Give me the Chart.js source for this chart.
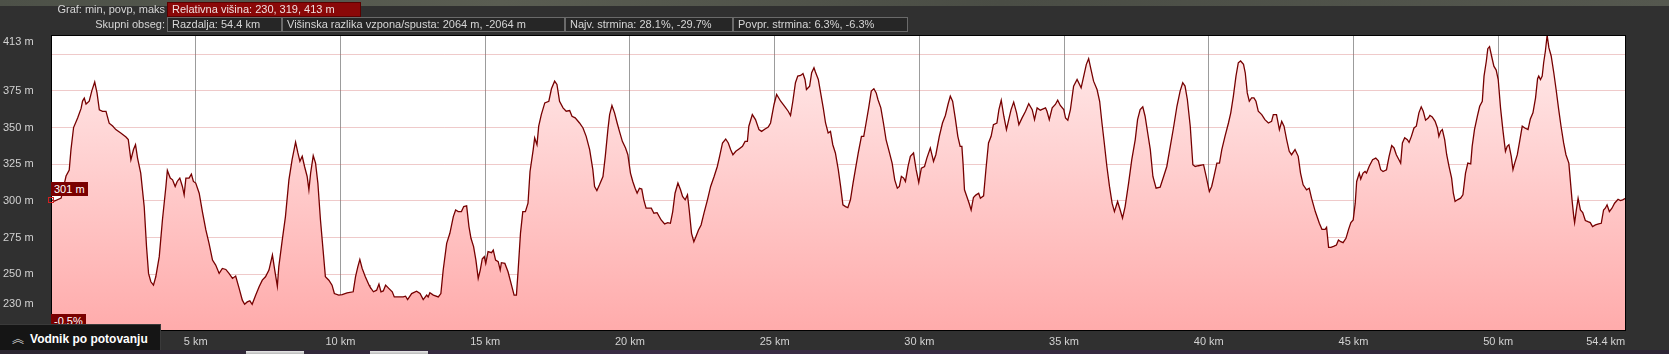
<!DOCTYPE html>
<html>
<head>
<meta charset="utf-8">
<script src="https://cdn.jsdelivr.net/npm/chart.js@4.4.1/dist/chart.umd.min.js"></script>
<style>
  html, body { margin: 0; padding: 0; background: #303030; overflow: hidden; }
  #wrap { position: relative; width: 1669px; height: 354px; background: #303030;
          font-family: "Liberation Sans", Arial, sans-serif; font-size: 11px; color: #d6d6d6; }
  #c { position: absolute; left: 0; top: 0; }
  .abs { position: absolute; white-space: nowrap; box-sizing: border-box; }
  .topstrip { left: 0; top: 0; width: 1669px; height: 6px;
              background: linear-gradient(90deg, #4d5148 0%, #5a5d52 30%, #4a4d45 60%, #55584f 100%); }
  .lbl { text-align: right; width: 160px; left: 5px; line-height: 15px; }
  .box { height: 15px; line-height: 13px; padding-left: 4px; border: 1px solid #6a6a6a; background: #262626; }
  .red { background: #8a0808; border: 1px solid #5a0000; color: #f0e0e0; }
  .mark { background: #7a0000; color: #fff; font-size: 11px; line-height: 14px; padding: 0 3px; }
  .sq { width: 6px; height: 6px; border: 1px solid #d02020; }
  .vodnik { left: 0; top: 324px; width: 161px; height: 26px; background: #151515;
            border-top: 1px solid #3a3a3a; border-right: 1px solid #3a3a3a;
            color: #fff; font-weight: bold; font-size: 12px; line-height: 25px; padding-left: 12px; }
  .bottomstrip { left: 0; top: 350px; width: 1669px; height: 4px;
                 background: linear-gradient(90deg, #2b2530 0%, #3a2c45 40%, #2e2535 100%); }
  .tb { top: 351px; height: 3px; background: linear-gradient(180deg, #e8e8e8, #b8b8b8); }
</style>
</head>
<body>
<div id="wrap">
  <canvas id="c" width="1669" height="354"></canvas>
  <div class="abs topstrip"></div>
  <div class="abs lbl" style="top:2px;">Graf: min, povp, maks</div>
  <div class="abs box red" style="left:167px; top:2px; width:194px;">Relativna višina: 230, 319, 413 m</div>
  <div class="abs lbl" style="top:17px;">Skupni obseg:</div>
  <div class="abs box" style="left:167px; top:17px; width:115px;">Razdalja: 54.4 km</div>
  <div class="abs box" style="left:282px; top:17px; width:283px;">Višinska razlika vzpona/spusta: 2064 m, -2064 m</div>
  <div class="abs box" style="left:565px; top:17px; width:168px;">Najv. strmina: 28.1%, -29.7%</div>
  <div class="abs box" style="left:733px; top:17px; width:175px;">Povpr. strmina: 6.3%, -6.3%</div>
  <div class="abs mark" style="left:51px; top:182px;">301 m</div>
  <div class="abs sq" style="left:48px; top:197px;"></div>
  <div class="abs mark" style="left:51px; top:314px;">-0.5%</div>
  <div class="abs vodnik"><span style="font-family:'Noto Sans CJK SC'; font-weight:normal; color:#cfcfcf; margin-right:6px;">︽</span>Vodnik po potovanju</div>
  <div class="abs bottomstrip"></div>
  <div class="abs tb" style="left:246px; width:58px;"></div>
  <div class="abs tb" style="left:370px; width:58px;"></div>
</div>
<script>
const distanceKm = [
  0.00,0.12,0.35,0.52,0.63,0.69,0.78,0.92,1.04,1.09,1.15,1.21,1.32,1.41,1.51,1.59,1.67,1.78,1.90,2.01,
  2.13,2.24,2.41,2.59,2.67,2.76,2.85,2.92,2.99,3.10,3.22,3.30,3.37,3.45,3.54,3.62,3.74,3.85,3.97,4.02,
  4.12,4.20,4.29,4.36,4.45,4.54,4.60,4.66,4.77,4.85,4.92,5.00,5.12,5.23,5.35,5.46,5.58,5.69,5.81,5.92,
  6.04,6.15,6.27,6.38,6.50,6.61,6.69,6.78,6.87,6.95,7.07,7.19,7.30,7.41,7.53,7.65,7.73,7.82,7.87,7.99,
  8.10,8.22,8.33,8.45,8.53,8.60,8.68,8.76,8.85,8.91,8.97,9.06,9.14,9.22,9.31,9.40,9.48,9.60,9.71,9.79,
  9.94,10.06,10.23,10.44,10.52,10.60,10.67,10.75,10.86,10.99,
  11.02,11.14,11.25,11.33,11.40,11.48,11.56,11.67,11.79,11.86,12.00,12.17,12.25,12.32,12.46,12.63,12.75,12.86,12.98,13.03,
  13.09,13.21,13.38,13.47,13.55,13.67,13.78,13.90,13.98,14.07,14.18,14.26,14.36,14.44,14.51,14.60,14.68,14.76,14.83,14.90,
  14.97,15.02,15.10,15.22,15.28,15.36,15.45,15.52,15.56,15.68,15.79,15.91,16.00,16.08,16.14,16.22,16.30,16.39,16.48,16.55,
  16.66,16.71,16.79,16.85,16.94,17.06,17.20,17.29,17.40,17.48,17.57,17.69,17.80,17.92,18.00,18.11,18.26,18.38,18.49,18.61,
  18.72,18.78,18.86,18.95,19.07,19.15,19.24,19.30,19.38,19.47,19.56,19.64,19.74,19.85,19.93,20.02,20.10,20.18,20.25,20.33,
  20.41,20.48,20.56,20.74,20.83,20.94,21.08,21.20,21.31,21.40,21.48,21.56,21.66,21.75,
  21.82,21.91,21.99,22.05,22.13,22.21,22.28,22.37,22.46,22.56,22.68,22.79,22.91,23.02,23.10,23.20,23.31,23.40,23.48,23.56,
  23.66,23.77,23.89,23.98,24.06,24.11,24.23,24.34,24.46,24.55,24.67,24.78,24.86,24.98,25.07,25.21,25.36,25.47,25.55,25.63,
  25.72,25.80,25.90,25.98,26.05,26.10,26.21,26.28,26.36,26.41,26.51,26.59,26.68,26.76,26.85,26.93,27.01,27.10,27.20,27.28,
  27.36,27.45,27.53,27.62,27.71,27.79,27.89,28.00,28.08,28.16,28.25,28.34,28.43,28.51,28.57,28.67,28.76,28.85,28.97,29.06,
  29.15,29.24,29.31,29.38,29.46,29.52,29.61,29.69,29.80,29.89,29.98,30.07,30.18,30.26,30.38,30.49,30.57,30.69,30.80,30.90,
  30.99,31.07,31.15,31.24,31.33,31.41,31.47,31.51,31.56,31.64,31.72,31.79,31.87,31.95,32.05,32.11,32.22,32.30,32.39,32.48,
  32.56,32.68,
  32.75,32.83,32.92,33.01,33.09,33.17,33.26,33.36,33.44,33.55,33.67,33.78,33.90,33.98,34.07,34.18,34.28,34.36,34.41,34.49,
  34.59,34.70,34.78,34.87,34.99,35.05,35.13,35.22,35.33,35.45,35.59,35.68,35.77,35.85,35.93,36.02,36.14,36.23,36.31,36.39,
  36.48,36.57,36.66,36.74,36.85,36.94,37.02,37.11,37.23,37.34,37.46,37.54,37.63,37.72,37.80,37.89,37.98,38.07,38.18,38.32,
  38.44,38.55,38.67,38.78,38.90,39.01,39.10,39.18,39.26,39.36,39.45,39.53,39.64,39.82,39.91,40.02,40.10,40.18,40.28,40.37,
  40.45,40.56,40.68,40.76,40.85,40.94,41.02,41.10,41.20,41.26,41.33,41.40,41.48,41.56,41.63,41.71,41.83,41.94,42.06,42.17,
  42.23,42.34,42.44,42.52,42.60,42.69,42.78,42.86,42.98,43.09,43.17,43.26,43.38,43.47,43.55,43.68,
  43.82,43.91,44.02,44.07,44.14,44.22,44.33,44.41,44.48,44.56,44.64,44.74,44.83,44.91,44.99,45.06,45.11,45.20,45.25,45.33,
  45.40,45.45,45.54,45.66,45.77,45.86,45.94,46.02,46.14,46.23,46.32,46.40,46.48,46.57,46.63,46.69,46.77,46.86,46.92,47.00,
  47.09,47.17,47.26,47.34,47.41,47.49,47.59,47.64,47.72,47.82,47.90,47.95,48.01,48.07,48.15,48.22,48.30,48.39,48.45,48.51,
  48.59,48.70,48.78,48.87,48.95,49.05,49.10,49.18,49.28,49.36,49.45,49.51,49.59,49.64,49.70,49.77,49.85,49.93,50.00,50.08,
  50.16,50.25,50.31,50.37,50.45,50.51,50.57,50.66,50.74,50.83,50.92,51.03,51.11,51.20,51.29,51.36,51.40,51.46,51.52,51.57,
  51.63,51.69,51.75,51.83,51.92,52.00,52.09,52.17,52.26,52.34,52.44,52.49,52.55,52.61,52.64,52.70,52.76,52.84,52.92,53.01,
  53.10,53.18,53.26,53.36,53.47,53.56,53.64,53.70,53.76,53.84,53.93,54.02,54.14,54.22,54.30,54.40
];
const elevationM = [
  301,300,302,317,321,335,350,356.5,363,368,370,366,368,375,381,373.6,362,361,361,353,
  351,348.6,346.3,343.6,341.8,328,335,338.3,329.2,319,296.2,269,250.7,245,242.7,248.4,262.1,287.1,309.9,320.8,
  315.6,314.4,309.9,313.3,315.6,309.9,304.2,315.6,315.6,318.3,313.3,312.2,305.3,292.8,280.3,271.2,259.8,256.4,250.7,254.1,
  253.4,250.7,247.3,248.9,240.5,232.5,229.7,231.3,232,229.7,235.9,241.6,246.1,248.4,253,263.2,253,242,255.2,273.5,
  289.4,314.4,328.1,340,332.7,327,330.4,323.5,316.7,307.6,319,330.8,325.8,312.2,287.1,266.6,248.4,246.1,242.7,237,
  235.9,236.3,237.5,238.2,248.4,255.2,260.2,254.1,248.4,242.7,
  241.6,238.2,239.3,243.4,238.2,238.8,242.7,240.5,238.2,234.7,234.7,234.7,235.2,232.9,237,238.6,237,232.9,235.9,234.7,
  237.5,235.9,234.7,237,253,271.2,278,289.4,293.9,292.8,292.8,296.2,296.7,282.6,274.6,268.9,259.8,247.3,253,260.7,
  262.1,257.5,265.5,264.8,266.6,259.8,258.7,253,258,257.5,251.8,242.7,235.9,235.9,253,278,292.8,292.8,298.5,320.1,
  335,342.9,338.3,350.9,358.8,366.8,367.9,376.4,381.6,379.3,367.9,363.4,361.1,361.6,357.7,356.6,353.1,349.7,344,335,
  321.3,309.9,307.1,311,316.7,330.4,348.6,358.8,365,360,353.1,347.4,340.6,336.1,331.5,319,313.3,308.7,305.3,308.7,
  308.1,300.8,295.1,295.1,291.7,292.1,287.1,284.4,285.2,284.8,292.8,305.3,312.2,307.6,
  303.1,300.8,304.2,293.9,278,272.3,275.7,280.3,283.7,291.7,300.8,309.9,316.7,323.5,330.4,339.5,342.2,339.5,335,331.5,
  333.8,335.4,337.2,340.6,340.6,350.9,358.8,355.4,348.6,347.4,349,350.4,353.1,365.7,372.5,367.9,364.1,361.1,358.2,367.9,
  380.5,385,385.5,386.8,382.7,375.9,378.2,387.3,390.7,387.8,382.7,373.6,363.4,353.1,346.3,347.4,338.3,332.7,321.3,309.9,
  297.4,296.2,295.5,300.8,312.2,321.3,332.7,344,344,353.1,363.4,374.8,376.4,373.6,369.1,363.4,353.1,341.8,332.7,325.8,
  314.4,308.7,309.9,316.7,315.6,313.3,323.5,330.4,332.7,321.3,312.6,322.4,323.5,329.2,336.1,327,331.5,344,353.1,358.2,
  365.7,371.4,367.9,356.6,344,337.2,337.2,325.8,307.6,303.1,298.5,293.9,302.4,304,305.3,301.9,303.5,321.3,339.5,344,
  352,353.1,
  362.2,368.6,357.7,348.6,355.4,362.2,367.3,360,352,356.6,361.1,366.3,362.2,355.4,363.4,361.8,362.7,363.4,361.1,355.4,
  363.4,365.7,368.6,365,362.2,356.6,355,362.2,378.2,382.7,377,385,393,396.9,389.6,381.6,375.9,367.9,353.1,339.5,
  323.5,309.9,298.5,292.8,299.7,293.9,288.3,296.2,312.2,328.1,341.8,355.4,362.2,364.1,357.7,346.3,335,316.7,308.7,309.4,
  316.7,323.5,337.2,349.7,364.5,374.8,380.5,378.2,369.1,350.9,324.7,323.5,324,324.7,316.7,306.5,309.9,316.7,325.8,325.8,
  335,344,353.1,360,371.4,385,394.1,395.3,393,387.3,373.6,367.9,370.2,370.2,367.9,361.1,358.8,355.4,353.1,354.2,
  358.8,358.8,348.6,354.2,350.9,341.8,333.8,331.5,335,330.4,319,311,307.6,308.7,301.9,292.8,
  284.8,280.7,280.7,282.1,268.4,268.4,269.3,270,273.5,272.3,271.6,274.6,280.7,285.3,287.1,298.5,313.3,319,314.9,319,
  320.1,319,323.5,328.1,329.2,327.4,321.3,320.1,321.3,330.4,337.7,336.1,331.5,328.1,325.8,339.5,343,341.8,339.9,344,
  349.7,350.9,360,364.1,361.1,355,356.6,358.2,357.2,354.2,349.7,344,347.4,348.6,341.8,331.5,323.5,315.6,305.3,299.7,
  300.8,301.9,304.2,319,325.8,325.3,337.2,348.6,357.7,364.5,367.9,385,395.3,403.7,405.1,398.7,391.8,389.1,382.7,363.4,
  348.6,333.8,337.2,338.3,330.4,321.3,325.8,331.5,340.6,350.9,349.7,348.6,355.9,360,370.2,383.2,385,382.7,385,394.1,
  402.1,412.8,404.4,398.7,387.3,375.9,362.2,350.9,339.5,331.5,325.8,314.4,300.8,289.4,285.3,293.9,301.9,293.9,292.1,286.7,
  285.9,285.3,282.6,283.7,284.4,284.8,293.9,295.1,297.4,292.8,295.1,298.5,301.2,300.3,300.8,301.9
];
const yTickValues = [230, 250, 275, 300, 325, 350, 375, 400, 413];
const xTickValues = [5, 10, 15, 20, 25, 30, 35, 40, 45, 50, 54.4];
const Y_MIN = 211.5, Y_MAX = 413, X_MAX = 54.4;

const points = distanceKm.map((d, i) => ({ x: d, y: elevationM[i] }));

const framePlugin = {
  id: 'frame',
  beforeDraw(chart) {
    const { ctx, chartArea: a } = chart;
    ctx.save();
    ctx.fillStyle = '#ffffff';
    ctx.fillRect(a.left, a.top, a.right - a.left, a.bottom - a.top);
    ctx.restore();
  },
  afterDraw(chart) {
    const { ctx, chartArea: a } = chart;
    ctx.save();
    ctx.strokeStyle = '#000000';
    ctx.lineWidth = 1;
    ctx.strokeRect(Math.round(a.left) + 0.5, Math.round(a.top) + 0.5,
                   Math.round(a.right - a.left) - 1, Math.round(a.bottom - a.top) - 1);
    ctx.restore();
  }
};

const tickFont = { family: '"Liberation Sans", Arial, sans-serif', size: 11 };

new Chart(document.getElementById('c'), {
  type: 'line',
  data: {
    datasets: [{
      data: points,
      borderColor: '#760000',
      borderWidth: 1.3,
      pointRadius: 0,
      tension: 0,
      fill: 'start',
      backgroundColor: (ctx) => {
        const a = ctx.chart.chartArea;
        if (!a) return '#ffcccc';
        const g = ctx.chart.ctx.createLinearGradient(0, a.top, 0, a.bottom);
        g.addColorStop(0, '#ffecec');
        g.addColorStop(1, '#ffabab');
        return g;
      }
    }]
  },
  options: {
    responsive: false,
    animation: false,
    events: [],
    layout: { padding: { left: 3, top: 35, right: 41, bottom: 0 } },
    plugins: { legend: { display: false }, tooltip: { enabled: false } },
    scales: {
      x: {
        type: 'linear', min: 0, max: X_MAX, z: 1,
        afterBuildTicks: (s) => { s.ticks = xTickValues.map(v => ({ value: v })); },
        afterFit: (s) => { s.height = 23; },
        border: { display: false },
        grid: {
          drawTicks: false,
          color: (c) => (c.tick && c.tick.value === X_MAX) ? 'rgba(0,0,0,0)' : '#9c9c9c',
          lineWidth: 1
        },
        ticks: {
          autoSkip: false, maxRotation: 0, padding: 4,
          color: '#d2d2d2', font: tickFont,
          callback: (v) => v === X_MAX ? '54.4 km' + '\u00a0'.repeat(13) : v + ' km'
        }
      },
      y: {
        type: 'linear', min: Y_MIN, max: Y_MAX, z: 1,
        afterBuildTicks: (s) => { s.ticks = yTickValues.map(v => ({ value: v })); },
        afterFit: (s) => { s.width = 48; },
        border: { display: false },
        grid: { drawTicks: false, color: 'rgba(205,90,90,0.32)', lineWidth: 1 },
        ticks: {
          autoSkip: false, crossAlign: 'far', padding: 0,
          color: '#d2d2d2', font: tickFont,
          callback: (v) => v === 413 ? ['', '413 m'] : (v === 400 ? '' : v + ' m')
        }
      }
    }
  },
  plugins: [framePlugin]
});
</script>
</body>
</html>
